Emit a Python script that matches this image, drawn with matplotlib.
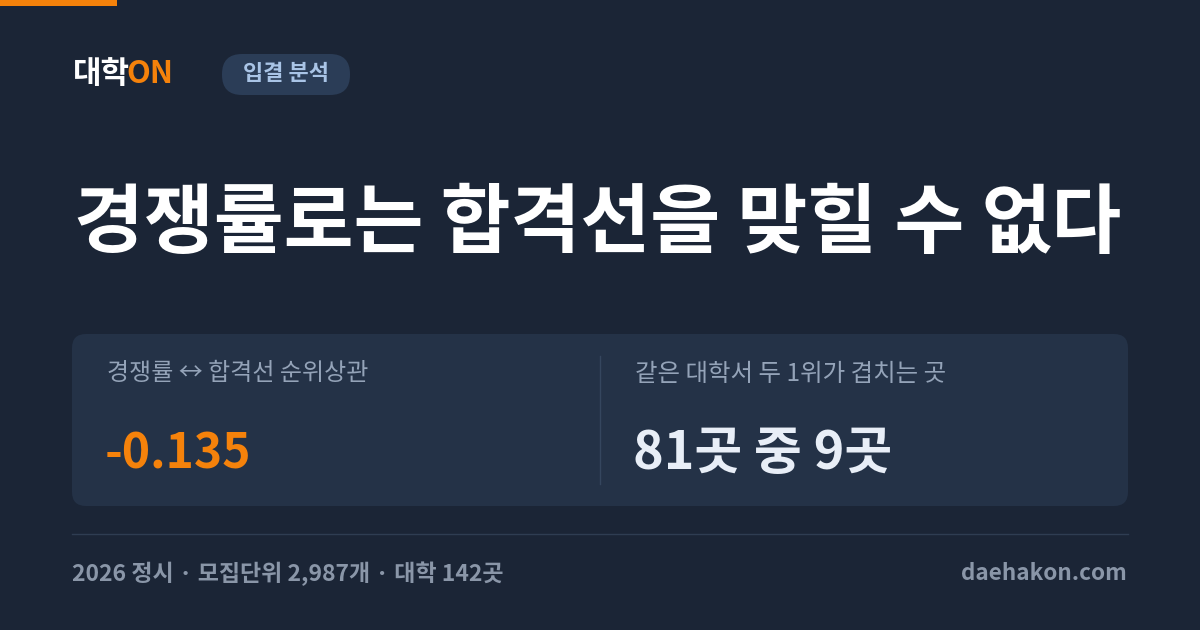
import matplotlib
matplotlib.use("Agg")
import matplotlib.pyplot as plt
import matplotlib.transforms as mtrans
from matplotlib.patches import FancyBboxPatch, Rectangle

plt.rcParams['font.family'] = ['Noto Sans CJK KR', 'DejaVu Sans']

# ---- content ----
brand_main = "대학"
brand_accent = "ON"
tag_label = "입결 분석"
headline = "경쟁률로는 합격선을 맞힐 수 없다"
stat_labels = ["경쟁률 ↔ 합격선 순위상관", "같은 대학서 두 1위가 겹치는 곳"]
stat_values = ["-0.135", "81곳 중 9곳"]
footer_left = "2026 정시 · 모집단위 2,987개 · 대학 142곳"
footer_right = "daehakon.com"

BG = "#1b2536"
CARD = "#243247"
ORANGE = "#f5820b"
LABEL = "#94a3b8"
VALUE_COLORS = [ORANGE, "#e8eef7"]
VALUE_SIZES = [48, 52]
LABEL_SIZES = [24, 24.5]

W, H = 1200, 630
fig = plt.figure(figsize=(12, 6.3), dpi=100)
fig.patch.set_facecolor(BG)
ax = fig.add_axes([0, 0, 1, 1])
ax.set_xlim(0, W)
ax.set_ylim(H, 0)
ax.axis('off')
ax.set_facecolor(BG)

def pt(px):
    return px * 0.72

# top accent bar
ax.add_patch(Rectangle((0, 0), 117, 6, color=ORANGE, lw=0))

# brand
t = ax.text(73, 74, brand_main, fontsize=pt(31), fontweight='bold', color='white',
            va='center', ha='left')
fig.canvas.draw()
bb = t.get_window_extent()
blend = mtrans.blended_transform_factory(mtrans.IdentityTransform(), ax.transData)
ax.text(bb.x1 - 4, 74, brand_accent, fontsize=pt(31), fontweight='bold', color=ORANGE,
        va='center', ha='left', transform=blend)

# tag pill
ax.add_patch(FancyBboxPatch((222, 54), 128, 41,
                            boxstyle="round,pad=0,rounding_size=20",
                            fc="#2b3d57", ec='none'))
ax.text(286, 74, tag_label, fontsize=pt(22), fontweight='bold', color="#a9c4e6",
        va='center', ha='center')

# headline
ax.text(74, 224, headline, fontsize=pt(76), fontweight='bold', color='white',
        va='center', ha='left')

# card
ax.add_patch(FancyBboxPatch((72, 334), 1056, 172,
                            boxstyle="round,pad=0,rounding_size=14",
                            fc=CARD, ec='none'))
ax.plot([600, 600], [356, 484], color="#35465e", lw=1)

xs = [107, 635]
for x, lab, val, col, vs, ls in zip(xs, stat_labels, stat_values, VALUE_COLORS,
                                    VALUE_SIZES, LABEL_SIZES):
    ax.text(x, 374, lab, fontsize=pt(ls), fontweight='medium', color=LABEL,
            va='center', ha='left')
    ax.text(x - 2, 454, val, fontsize=pt(vs), fontweight='bold', color=col,
            va='center', ha='left')

# footer
ax.plot([72, 1128], [534, 534], color="#2f3d52", lw=1)
ax.text(72, 574, footer_left, fontsize=pt(23), fontweight='bold', color="#8a96a8",
        va='center', ha='left')
ax.text(1127, 574, footer_right, fontsize=pt(22.5), fontweight='bold', color="#8a96a8",
        va='center', ha='right')

fig.savefig("out.png", dpi=100, facecolor=BG)
